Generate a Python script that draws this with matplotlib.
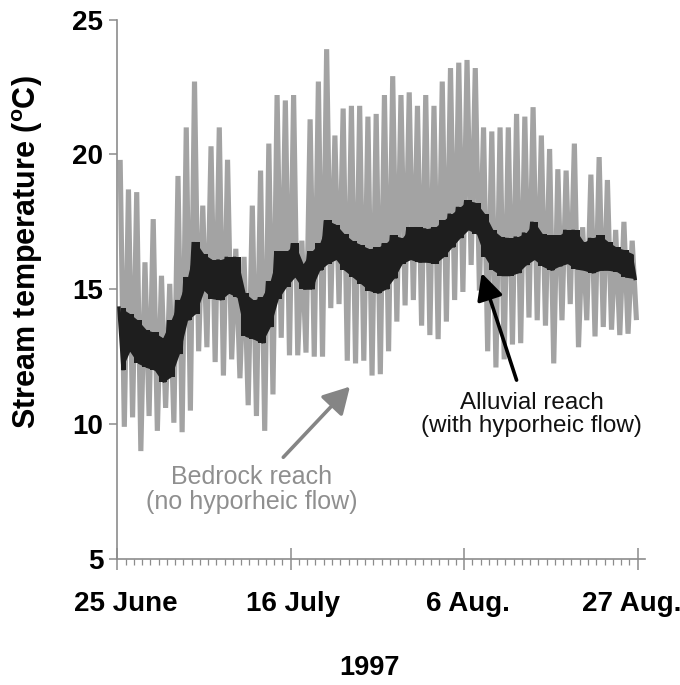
import numpy as np
import matplotlib
matplotlib.use('Agg')
import matplotlib.pyplot as plt
from matplotlib.transforms import ScaledTranslation

plt.rcParams['font.family'] = ['Liberation Sans', 'DejaVu Sans']
plt.rcParams['mathtext.fontset'] = 'custom'
plt.rcParams['mathtext.rm'] = 'Liberation Sans'
plt.rcParams['mathtext.bf'] = 'Liberation Sans:bold'

# ---------------- data ----------------
start_date = '1997-06-25'
tick_dates = ['1997-06-25', '1997-07-16', '1997-08-06', '1997-08-27']
tick_labels = ['25 June', '16 July', '6 Aug.', '27 Aug.']
year_label = '1997'
y_ticks = [5, 10, 15, 20, 25]

# Bedrock reach (no hyporheic flow): daily maximum / minimum, deg C
bedrock_max = [19.7, 18.7, 18.6, 16.0, 17.6, 15.5, 15.2, 19.2, 21.0, 22.7,
               18.1, 20.3, 21.0, 19.8, 16.5, 16.2, 18.1, 19.4, 20.4, 22.2,
               22.0, 22.2, 16.8, 21.3, 22.7, 23.9, 20.7, 21.7, 21.8, 21.8,
               21.4, 21.5, 22.2, 22.9, 22.2, 22.3, 21.8, 22.2, 21.8, 22.7,
               23.2, 23.4, 23.5, 23.2, 21.0, 20.85, 21.0, 21.0, 21.5, 21.4,
               21.75, 20.7, 20.2, 19.45, 19.4, 20.4, 17.3, 19.25, 19.9, 19.05,
               17.2, 17.5, 16.8]
bedrock_min = [9.9, 10.25, 9.0, 10.3, 9.75, 10.6, 10.05, 9.7, 10.5, 12.7,
               12.85, 12.3, 11.8, 12.4, 11.7, 10.7, 10.3, 9.75, 11.1, 13.2,
               12.55, 12.55, 12.65, 12.5, 12.5, 14.3, 14.45, 12.35, 12.25, 12.35,
               11.8, 11.85, 12.7, 13.8, 14.4, 14.6, 13.65, 13.3, 13.15, 13.8,
               14.6, 14.9, 15.9, 14.95, 12.7, 12.1, 12.4, 12.95, 13.0, 13.95,
               13.85, 13.65, 12.25, 13.85, 14.45, 12.85, 13.85, 13.25, 13.6, 13.5,
               13.3, 13.35, 13.95]

# Alluvial reach (with hyporheic flow): daily maximum / minimum, deg C
alluvial_max = [14.3, 14.1, 13.85, 13.5, 13.4, 13.2, 13.85, 14.6, 15.45, 16.75,
                16.3, 16.1, 16.1, 16.2, 16.2, 14.85, 14.6, 14.7, 15.3, 16.4,
                16.4, 16.7, 15.95, 16.4, 16.7, 17.55, 17.4, 17.05, 16.8, 16.65,
                16.5, 16.55, 16.7, 17.0, 16.9, 17.3, 17.3, 17.25, 17.3, 17.55,
                17.8, 18.05, 18.3, 18.2, 17.8, 17.2, 16.95, 16.9, 16.95, 17.1,
                17.5, 17.05, 17.0, 17.0, 17.2, 17.2, 16.75, 16.9, 17.0, 16.75,
                16.55, 16.45, 16.3]
alluvial_min = [12.0, 12.7, 12.25, 12.1, 12.0, 11.55, 11.75, 12.6, 13.85, 14.1,
                14.95, 14.65, 14.6, 14.85, 14.7, 13.25, 13.15, 13.0, 13.6, 14.65,
                15.1, 15.45, 15.0, 15.0, 15.7, 15.95, 16.1, 15.7, 15.45, 15.2,
                14.95, 14.85, 15.0, 15.4, 15.95, 16.1, 16.0, 16.0, 15.95, 16.2,
                16.55, 16.9, 17.2, 17.05, 16.2, 15.7, 15.5, 15.5, 15.6, 15.9,
                16.1, 15.85, 15.7, 15.85, 15.95, 15.75, 15.7, 15.6, 15.7, 15.7,
                15.65, 15.45, 15.4]

# ---------------- figure ----------------
days = np.arange(len(bedrock_max))
t0 = np.datetime64(start_date)
tick_pos = (np.array(tick_dates, dtype='datetime64[D]') - t0).astype(int)

fig = plt.figure(figsize=(6.8, 6.85), dpi=100)
ax = fig.add_axes([0.1725, 0.184, 0.776, 0.7875])

gray = '#a3a3a3'
axis_gray = '#8c8c8c'
dark = '#1e1e1e'

bx = np.column_stack([days + 0.35, days + 0.85]).ravel()
by = np.column_stack([bedrock_max, bedrock_min]).ravel()
ax.plot(bx, by, color=gray, lw=3.7, solid_joinstyle='bevel', zorder=2)

# alluvial: solid band between daily min and max, with jagged edges
xa = days + 0.5
ax.fill_between(xa, alluvial_min, alluvial_max, step='mid', color=dark, lw=0, zorder=3)
ax.fill_between(xa, alluvial_min, alluvial_max, color=dark, lw=0, zorder=3)
axx = np.column_stack([days + 0.2, days + 0.7]).ravel()
ayy = np.column_stack([alluvial_max, alluvial_min]).ravel()
ax.plot(axx, ayy, color=dark, lw=2.5, solid_joinstyle='bevel', zorder=3)

ax.set_xlim(0, 63.9)
ax.set_ylim(5, 25)

for s in ['top', 'right']:
    ax.spines[s].set_visible(False)
for s in ['left', 'bottom']:
    ax.spines[s].set_color(axis_gray)
    ax.spines[s].set_linewidth(1.2)

ax.set_yticks(y_ticks)
ax.set_yticklabels([str(v) for v in y_ticks])
ax.tick_params(axis='y', direction='out', length=6, width=1.1, color=axis_gray,
               labelsize=20, pad=4)

ax.set_xticks(tick_pos)
ax.set_xticklabels(tick_labels)
ax.set_xticks(np.arange(0, tick_pos[-1] + 1), minor=True)
ax.tick_params(axis='x', which='major', direction='inout', length=16, width=1.1,
               color=axis_gray, labelsize=20, pad=15)
ax.tick_params(axis='x', which='minor', direction='out', length=4.5, width=0.9,
               color=axis_gray)

for lbl in ax.get_xticklabels() + ax.get_yticklabels():
    lbl.set_fontweight('bold')

label_shift_px = [9, 2, 4, -6]
for lbl, dx in zip(ax.get_xticklabels(), label_shift_px):
    lbl.set_transform(lbl.get_transform() + ScaledTranslation(dx / 100, 0, fig.dpi_scale_trans))

fig.text(28 / 680, 1 - 252 / 685, r'Stream temperature ($^{\mathbf{o}}$C)', rotation=90,
         ha='center', va='center', fontsize=22, fontweight='bold')
fig.text(370 / 680, 1 - 668 / 685, year_label, ha='center', va='center',
         fontsize=19.5, fontweight='bold')

# annotations
ax.annotate('', xy=(28.17, 11.39), xytext=(20.1, 8.77),
            arrowprops=dict(arrowstyle='-|>,head_length=0.8,head_width=0.45',
                            color='#858585', lw=2.6, shrinkA=0, shrinkB=0,
                            mutation_scale=20), zorder=5)
ax.text(16.31, 7.59, 'Bedrock reach\n(no hyporheic flow)', ha='center', va='center',
        fontsize=18, color='#8f8f8f', linespacing=1.05, zorder=5)

ax.annotate('', xy=(44.12, 15.6), xytext=(48.35, 11.63),
            arrowprops=dict(arrowstyle='-|>,head_length=0.8,head_width=0.4',
                            color='black', lw=2.6, shrinkA=0, shrinkB=0,
                            mutation_scale=20), zorder=5)
ax.text(50.2, 10.37, 'Alluvial reach\n(with hyporheic flow)', ha='center', va='center',
        fontsize=17.5, color='#111111', linespacing=1.05, zorder=5)

fig.savefig('out.png', dpi=100)
